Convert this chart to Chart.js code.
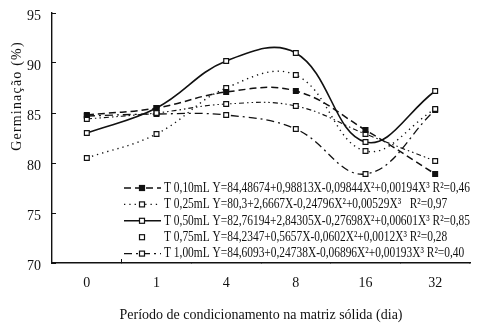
<!DOCTYPE html>
<html><head><meta charset="utf-8">
<script src="https://cdn.jsdelivr.net/npm/chart.js@4/dist/chart.umd.min.js"></script>
<style>html,body{margin:0;padding:0;background:#fff}#wrap{width:485px;height:324px;position:relative}</style>
</head><body><div id="wrap"><canvas id="c" width="485" height="324"></canvas></div>
<script>
// ---- data ----
const categories = ['0', '1', '4', '8', '16', '32'];
const t010 = [84.8, 85.5, 87.1, 87.2, 83.3, 78.9];
const t025 = [80.5, 82.9, 87.5, 88.8, 81.2, 85.4];
const t050 = [83.0, 85.5, 90.2, 91.0, 82.1, 87.2];
const t075 = [84.4, 85.0, 85.9, 85.7, 82.9, 80.2];
const t100 = [84.7, 84.9, 84.8, 83.4, 78.9, 85.3];
const seriesLabels = [
  'T 0,10mL Y=84,48674+0,98813X-0,09844X\u00B2+0,00194X\u00B3 R\u00B2=0,46',
  'T 0,25mL Y=80,3+2,6667X-0,24796X\u00B2+0,00529X\u00B3   R\u00B2=0,97',
  'T 0,50mL Y=82,76194+2,84305X-0,27698X\u00B2+0,00601X\u00B3 R\u00B2=0,85',
  'T 0,75mL Y=84,2347+0,5657X-0,0602X\u00B2+0,0012X\u00B3 R\u00B2=0,28',
  'T 1,00mL Y=84,6093+0,24738X-0,06896X\u00B2+0,00193X\u00B3 R\u00B2=0,40'
];
const yMin = 70, yMax = 95, yStep = 5;
const yTitle = 'Germinação (%)';
const xTitle = 'Período de condicionamento na matriz sólida (dia)';

const SERIF = '"Liberation Serif", "Times New Roman", serif';

function ds(label, data, dash, width, fill, legendLine) {
  return {
    label, data,
    borderColor: '#111', borderWidth: width, borderDash: dash,
    tension: 0.4, fill: false,
    pointStyle: 'rect', pointRadius: 3.4, pointHoverRadius: 3.4,
    pointBorderWidth: 1.2, pointBorderColor: '#111', pointBackgroundColor: fill,
    legendLine
  };
}

const datasets = [
  ds(seriesLabels[0], t010, [7, 4], 1.5, '#111', true),
  ds(seriesLabels[1], t025, [1.3, 4], 1.4, '#fff', true),
  ds(seriesLabels[2], t050, [], 1.6, '#fff', true),
  ds(seriesLabels[3], t075, [5, 3, 1.5, 3, 1.5, 3], 1.1, '#fff', false),
  ds(seriesLabels[4], t100, [8, 4, 2, 4], 1.3, '#fff', true)
];

const eqLegend = {
  id: 'eqLegend',
  afterLayout(chart) {
    const s = chart.scales.y;
    if (s && !s._titleOverride) {
      const orig = Object.getPrototypeOf(s).drawTitle;
      s.drawTitle = function () {
        const ctx = this.ctx;
        ctx.save();
        ctx.letterSpacing = '1.2px';
        ctx.translate(0, -42);
        orig.call(this);
        ctx.restore();
      };
      s._titleOverride = true;
    }
  },
  afterDraw(chart) {
    const ctx = chart.ctx;
    const area = chart.chartArea;
    ctx.save();
    ctx.fillStyle = '#fff';
    ctx.fillRect(123, 179, area.right - 123, area.bottom - 180);
    ctx.font = '14.5px ' + SERIF;
    ctx.textBaseline = 'middle';
    ctx.textAlign = 'left';
    const textLeft = 164;
    const sx = (area.right - textLeft) / ctx.measureText(chart.data.datasets[0].label).width;
    chart.data.datasets.forEach((d, i) => {
      const y = 188 + i * 16.4;
      ctx.strokeStyle = d.borderColor;
      if (d.legendLine) {
        ctx.lineWidth = d.borderWidth;
        ctx.setLineDash(d.borderDash);
        ctx.beginPath(); ctx.moveTo(124, y); ctx.lineTo(161, y); ctx.stroke();
      }
      ctx.setLineDash([]);
      ctx.lineWidth = d.pointBorderWidth;
      ctx.fillStyle = d.pointBackgroundColor;
      ctx.fillRect(139.5, y - 2.5, 5, 5);
      ctx.strokeRect(139.5, y - 2.5, 5, 5);
      ctx.fillStyle = '#111';
      ctx.save();
      ctx.translate(textLeft, y);
      ctx.scale(sx, 1);
      ctx.fillText(d.label, 0, 0);
      ctx.restore();
    });
    ctx.restore();
  }
};

new Chart(document.getElementById('c'), {
  type: 'line',
  data: { labels: categories, datasets },
  plugins: [eqLegend],
  options: {
    responsive: false, animation: false, devicePixelRatio: 1,
    layout: { padding: { top: 13, right: 15, left: 0, bottom: 0 } },
    plugins: { legend: { display: false }, tooltip: { enabled: false } },
    scales: {
      x: {
        offset: true,
        grid: { offset: true, drawOnChartArea: false, drawTicks: true, tickLength: -4, color: '#111', lineWidth: 1 },
        border: { color: '#111', width: 1.4 },
        ticks: { color: '#111', font: { family: SERIF, size: 14 }, padding: 16, maxRotation: 0 },
        title: { display: true, text: xTitle, color: '#111', font: { family: SERIF, size: 14 }, padding: 0 },
        afterFit: (s) => { s.height = 61; s.paddingLeft = 0; s.paddingRight = 0; }
      },
      y: {
        min: yMin, max: yMax,
        grid: { drawOnChartArea: false, drawTicks: true, tickLength: -4, color: '#111', lineWidth: 1 },
        border: { color: '#111', width: 1.4 },
        ticks: { stepSize: yStep, color: '#111', font: { family: SERIF, size: 14 }, padding: 15, labelOffset: 3 },
        title: { display: true, text: yTitle, color: '#111', font: { family: SERIF, size: 14 }, padding: { top: 9, bottom: 0 } },
        afterFit: (s) => { s.width = 52; s.paddingTop = 0; s.paddingBottom = 0; }
      }
    }
  }
});
</script></body></html>
